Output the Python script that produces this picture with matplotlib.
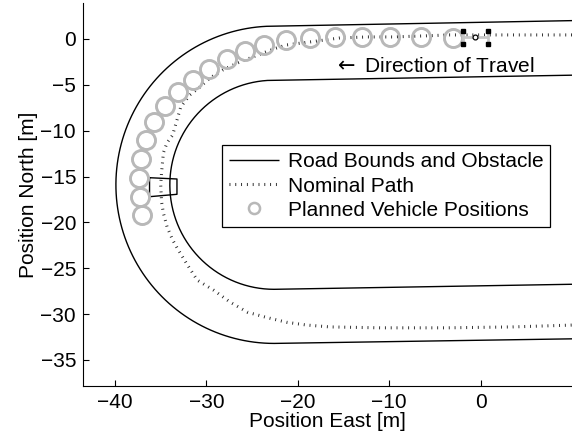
import numpy as np
import matplotlib
matplotlib.use("Agg")
import matplotlib.pyplot as plt
from matplotlib.lines import Line2D

plt.rcParams['font.family'] = ['Liberation Sans', 'DejaVu Sans']
plt.rcParams['font.size'] = 15
plt.rcParams['mathtext.fontset'] = 'dejavusans'

# --- road geometry (U-turn) ---
arc_center = (-22.6, -15.9)
outer_radius = 17.3
inner_radius = 11.4
road_end_x = 10.0
outer_top_end_y = 2.0
inner_top_end_y = -3.95
inner_bottom_end_y = -26.75
outer_bottom_end_y = -32.7

# --- nominal path (east, north) ---
path_x = [10.0, 2.1, -3.4, -6.3, -9.6, -12.4, -15.4, -18.7, -21.2, -22.3, -23.8,
          -25.2, -26.6, -28.2, -29.6, -30.7, -31.8, -32.8, -33.7, -34.3, -34.7,
          -34.9, -35.0, -34.9, -34.7, -34.3, -33.7, -33.2, -32.1, -31.0, -29.2,
          -27.4, -25.5, -23.3, -21.2, -19.0, -16.5, -11.0, -3.7, 3.5, 10.0]
path_y = [0.44, 0.44, 0.44, 0.33, 0.22, 0.22, 0.11, -0.33, -0.65, -0.98, -1.53,
          -2.07, -2.62, -3.38, -4.25, -5.23, -6.1, -7.4, -10.5, -11.3, -12.4,
          -14.5, -15.9, -17.8, -19.0, -20.5, -21.9, -22.8, -24.6, -26.3, -27.4,
          -28.7, -29.8, -30.4, -30.9, -31.2, -31.4, -31.5, -31.5, -31.4, -31.2]

# --- planned vehicle positions ---
plan_x = [-3.03, -6.52, -9.91, -12.97, -15.92, -18.66, -21.28, -23.68, -25.76,
          -27.73, -29.69, -31.44, -33.08, -34.50, -35.70, -36.58, -37.13,
          -37.34, -37.23, -37.02]
plan_y = [0.11, 0.22, 0.22, 0.22, 0.22, 0.11, -0.11, -0.65, -1.31, -2.18,
          -3.27, -4.47, -5.78, -7.31, -9.05, -11.01, -13.09, -15.16, -17.23,
          -19.19]

# --- obstacle corners ---
obst_x = [-36.22, -33.22, -33.22, -36.22, -36.22]
obst_y = [-15.13, -15.27, -16.94, -17.20, -15.13]

# --- current vehicle (wheels at axle ends) ---
rear_axle_x = -1.97
front_axle_x = 0.83
wheel_left_y = 0.87
wheel_right_y = -0.55
vehicle_cg = (-0.57, 0.2)

x_ticks = [-40, -30, -20, -10, 0]
y_ticks = [0, -5, -10, -15, -20, -25, -30, -35]
x_limits = (-43.5, 10.0)
y_limits = (-37.8, 3.9)


def road_bound(radius, top_end_y, bottom_end_y):
    cx, cy = arc_center
    theta = np.linspace(np.pi / 2, 3 * np.pi / 2, 200)
    xs = np.concatenate([[road_end_x], cx + radius * np.cos(theta), [road_end_x]])
    ys = np.concatenate([[top_end_y], cy + radius * np.sin(theta), [bottom_end_y]])
    return xs, ys


fig = plt.figure(figsize=(5.72, 4.38), dpi=100)
ax = fig.add_axes([83 / 572, 1 - 385.6 / 438, 489 / 572, 382.4 / 438])

road_kw = dict(color='black', lw=1.0, solid_capstyle='butt')
ox, oy = road_bound(outer_radius, outer_top_end_y, outer_bottom_end_y)
ix, iy = road_bound(inner_radius, inner_top_end_y, inner_bottom_end_y)
ax.plot(ox, oy, **road_kw)
ax.plot(ix, iy, **road_kw)
ax.plot(obst_x, obst_y, **road_kw)

path_kw = dict(color='0.15', lw=2.2, dashes=(0.3, 1.6), dash_capstyle='butt')
ax.plot(path_x, path_y, **path_kw)

plan_kw = dict(ls='none', marker='o', ms=13, mfc='none', mec='0.72', mew=2.1)
ax.plot(plan_x, plan_y, **plan_kw)

# vehicle body: axles and centre line
mid_y = (wheel_left_y + wheel_right_y) / 2
body_kw = dict(color='0.78', lw=2.0, solid_capstyle='butt')
ax.plot([rear_axle_x, rear_axle_x], [wheel_left_y, wheel_right_y], **body_kw)
ax.plot([front_axle_x, front_axle_x], [wheel_left_y, wheel_right_y], **body_kw)
ax.plot([rear_axle_x, front_axle_x], [mid_y, mid_y], **body_kw)
ax.plot([rear_axle_x, rear_axle_x, front_axle_x, front_axle_x],
        [wheel_left_y, wheel_right_y, wheel_left_y, wheel_right_y],
        ls='none', marker='s', ms=3, color='black')
ax.plot([vehicle_cg[0]], [vehicle_cg[1]], marker='o', ms=3.5, mfc='white',
        mec='black', mew=0.9)

ax.text(-16.1, -3.55, r'$\leftarrow$ Direction of Travel', va='baseline', ha='left')

ax.set_xlim(*x_limits)
ax.set_ylim(*y_limits)
ax.set_xticks(x_ticks)
ax.set_yticks(y_ticks)
ax.tick_params(direction='in', length=4, width=0.8, pad=5)
for side in ('top', 'right'):
    ax.spines[side].set_visible(False)
for side in ('left', 'bottom'):
    ax.spines[side].set_linewidth(0.8)
ax.set_xlabel('Position East [m]', labelpad=0)
ax.set_ylabel('Position North [m]', labelpad=2)

handles = [Line2D([], [], **road_kw),
           Line2D([], [], **path_kw),
           Line2D([], [], **dict(plan_kw, ms=8, mew=1.8))]
labels = ['Road Bounds and Obstacle', 'Nominal Path', 'Planned Vehicle Positions']
leg = ax.legend(handles, labels, loc='upper left', bbox_to_anchor=(0.284, 0.629),
                borderaxespad=0, frameon=True, fancybox=False, framealpha=1,
                edgecolor='black', handlelength=2.4, handletextpad=0.4,
                borderpad=0.35, labelspacing=0.25)
leg.get_frame().set_linewidth(0.9)

fig.savefig('out.png', dpi=100)
